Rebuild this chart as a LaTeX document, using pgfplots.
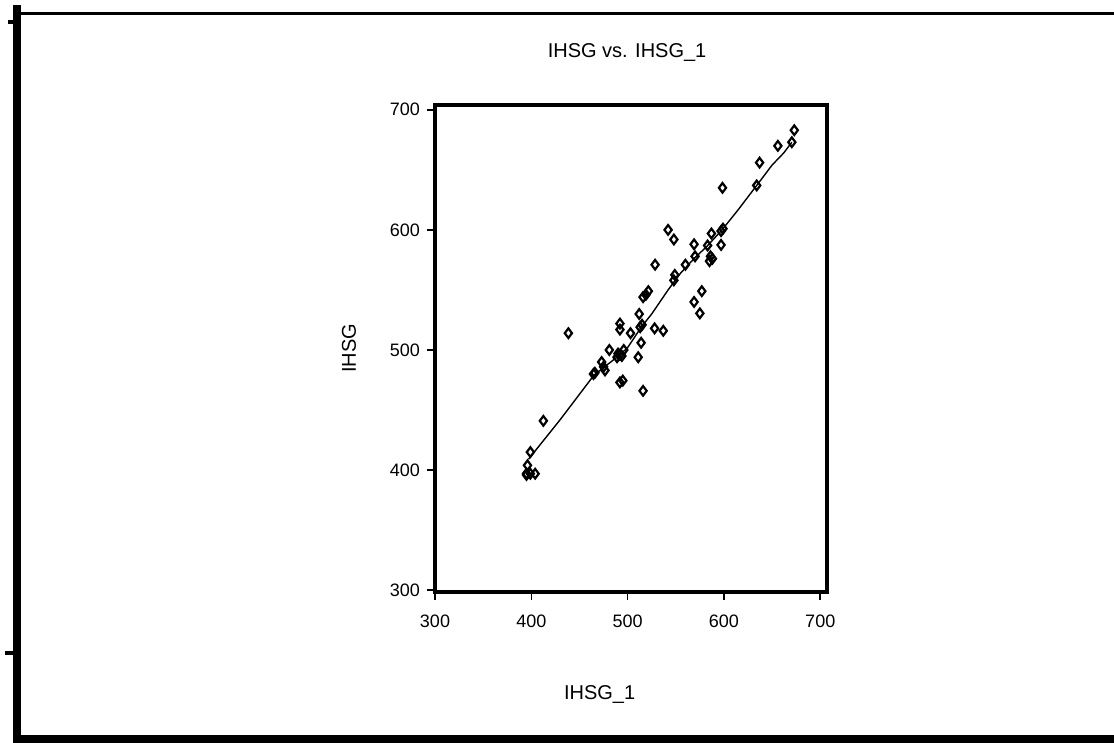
\documentclass[border=0pt]{standalone}
\usepackage{pgfplots}
\pgfplotsset{compat=1.18}
\usepackage{fontspec}
\setmainfont{Liberation Sans}
\begin{document}
\begin{tikzpicture}
\useasboundingbox (0,0) rectangle (557pt,371.5pt);
% outer frame
\draw[line width=4pt] (8.5pt,369pt) -- (8.5pt,0pt);
\draw[line width=1.6pt] (8.5pt,364.75pt) -- (557pt,364.75pt);
\draw[line width=4pt] (8.5pt,2pt) -- (557pt,2pt);
\draw[line width=2pt] (2.5pt,45pt) -- (8.5pt,45pt);
\draw[line width=2pt] (4pt,360.5pt) -- (8.5pt,360.5pt);
\begin{axis}[
  at={(217.5pt,75.5pt)}, anchor=south west,
  scale only axis, width=196pt, height=243.5pt,
  xmin=300, xmax=707, ymin=298.5, ymax=704,
  xtick={300,400,500,600,700}, ytick={300,400,500,600,700},
  tick align=outside, tick pos=left,
  major tick length=4pt,
  tick style={black, line width=0.8pt},
  axis line style={line width=1.6pt},
  /pgf/number format/assume math mode=true,
  tick label style={font=\fontsize{9}{10}\selectfont},
  xticklabel style={yshift=-4pt},
  title={IHSG vs. IHSG\_1},
  title style={font=\fontsize{10}{12}\selectfont, at={(0.49,1)}, yshift=12pt},
  xlabel={IHSG\_1}, ylabel={IHSG},
  label style={font=\fontsize{10}{12}\selectfont},
  xlabel style={at={(0.42,0)}, yshift=-43pt},
  ylabel style={yshift=10pt},
]
\addplot[black, line width=0.7pt] coordinates {
(397,409) (430,442) (465,479) (492,496) (500,502) (515,520) (525,530)
(542,550) (555,564) (570,577) (582,586) (598,600) (615,617) (634,637)
(650,654) (662,664) (670.5,673)
};
\addplot[only marks, mark=diamond, mark size=2.4pt, mark options={black, line width=1.1pt}] coordinates {
(673,683) (656,670) (637,656) (634,637) (598.5,635) (597,599) (599,601)
(587,597) (597,587.5) (583,587) (586,578) (585,574) (588,576) (569,588)
(570,578) (560,571) (549,562.5) (548,558) (542,600) (548,592) (528.5,571)
(521.5,549) (516,544) (519,546) (577,549) (569,540) (575,530.5) (512,530)
(515,521) (513,519) (492,522) (492,517) (503,514) (528,518) (537,516)
(514,506) (511,494) (496,500) (492,496) (489,494) (490,497) (494,495)
(481,500) (473,490) (476.5,483) (475,486) (464.5,480) (466,481) (495,474.5)
(492,473) (516,466) (438.5,514) (412.5,441) (399,415) (396,404) (395,397)
(399,397) (404,397) (395,396) (670.5,673)
};
\end{axis}
\end{tikzpicture}
\end{document}
